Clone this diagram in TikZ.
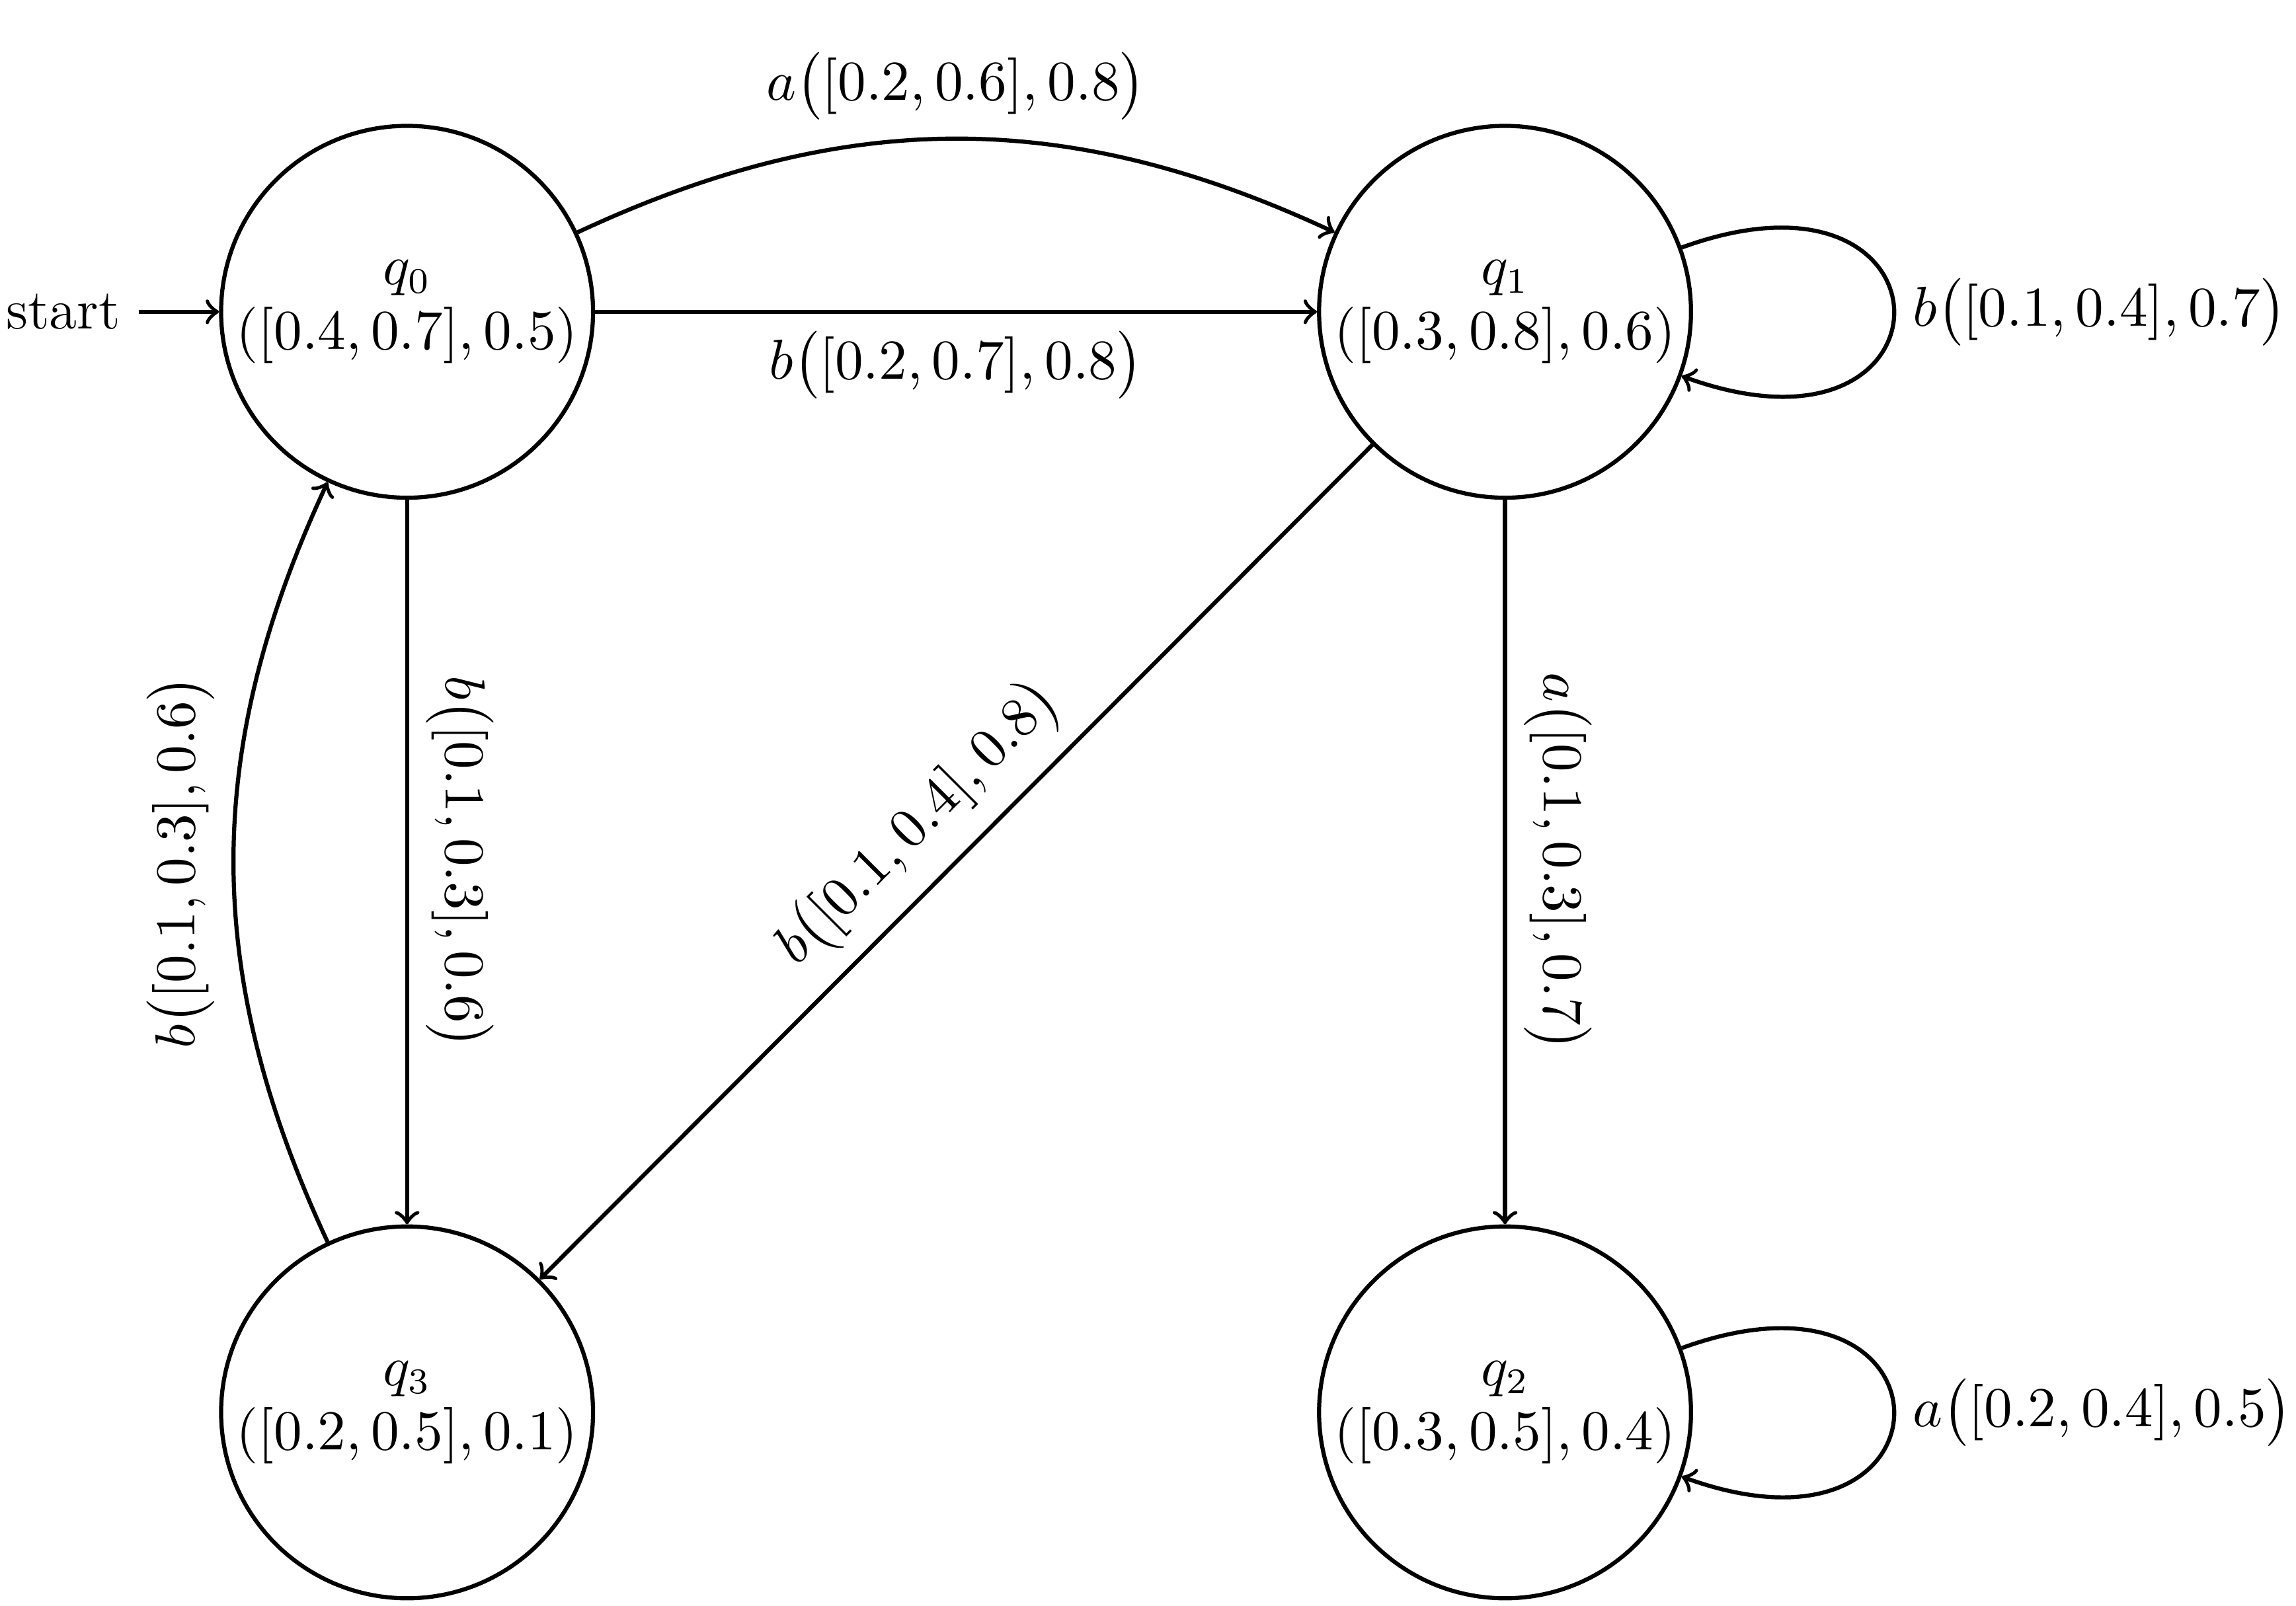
\documentclass[tikz,border=0pt]{standalone}
\usepackage{amsmath}
\usetikzlibrary{positioning,automata,arrows}
\tikzset{
  >=to,
  state/.style={circle, draw, thick, minimum size=2.54cm, inner sep=0pt, align=center, font=\fontsize{10.5}{12.5}\selectfont},
  edgelabel/.style={font=\fontsize{11}{13}\selectfont}
}
\begin{document}
\begin{tikzpicture}[every edge/.style={draw, thick, ->}]
  \useasboundingbox (0,0) rectangle (15.68,-10.97);

  % STATES
  \node[state] (q0) at (2.78,-2.13) {$q_0$\\$([0.4,0.7],0.5)$};
  \node[state, right=4.93cm of q0] (q1) {$q_1$\\$([0.3,0.8],0.6)$};
  \node[state, below=4.95cm of q1] (q2) {$q_2$\\$([0.3,0.5],0.4)$};
  \node[state, below=4.95cm of q0] (q3) {$q_3$\\$([0.2,0.5],0.1)$};

  % START
  \node[font=\fontsize{11}{13}\selectfont, left=0.55cm of q0] (start) {start};
  \draw[thick, ->] (start) -- (q0);

  % EDGES
  \path (q0) edge[bend left=25] node[above, edgelabel] {$a\big([0.2,0.6],0.8\big)$} (q1)
        (q0) edge node[below, edgelabel] {$b\big([0.2,0.7],0.8\big)$} (q1)
        (q1) edge[out=20, in=-20, looseness=6] node[right, edgelabel] {$b\big([0.1,0.4],0.7\big)$} (q1)
        (q1) edge node[above, sloped, edgelabel] {$b\big([0.1,0.4],0.8\big)$} (q3)
        (q1) edge node[above, sloped, edgelabel] {$a\big([0.1,0.3],0.7\big)$} (q2)
        (q0) edge node[above, sloped, edgelabel] {$b\big([0.1,0.3],0.6\big)$} (q3)
        (q3) edge[bend left=25] node[above, sloped, edgelabel] {$b\big([0.1,0.3],0.6\big)$} (q0)
        (q2) edge[out=20, in=-20, looseness=6] node[right, edgelabel] {$a\big([0.2,0.4],0.5\big)$} (q2);
\end{tikzpicture}
\end{document}
